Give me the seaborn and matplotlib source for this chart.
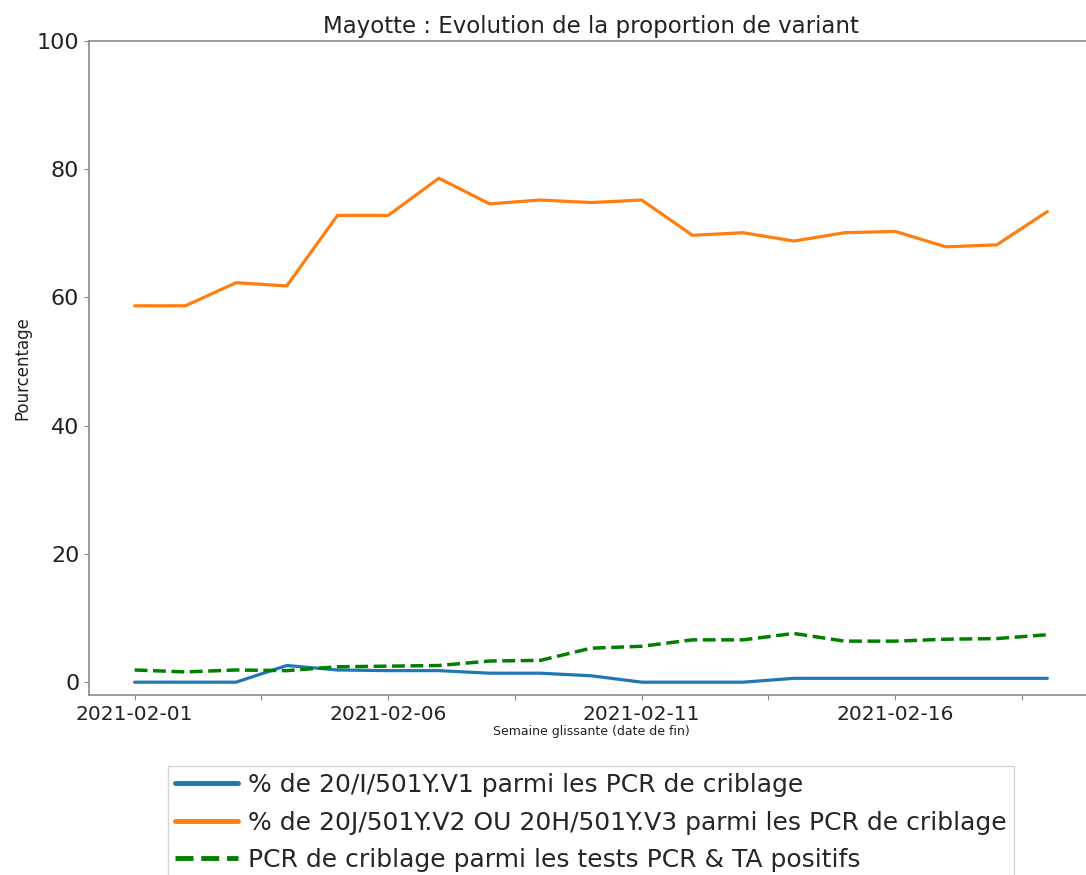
import pandas as pd
import numpy as np
import matplotlib
matplotlib.use("Agg")
import matplotlib.pyplot as plt
import seaborn as sns

dates = ["2021-02-01", "2021-02-02", "2021-02-03", "2021-02-04", "2021-02-05",
         "2021-02-06", "2021-02-07", "2021-02-08", "2021-02-09", "2021-02-10",
         "2021-02-11", "2021-02-12", "2021-02-13", "2021-02-14", "2021-02-15",
         "2021-02-16", "2021-02-17", "2021-02-18", "2021-02-19"]
v1 = [0.0, 0.0, 0.0, 2.6, 1.9, 1.8, 1.8, 1.4, 1.4, 1.0,
      0.0, 0.0, 0.0, 0.6, 0.6, 0.6, 0.6, 0.6, 0.6]
v2_v3 = [58.7, 58.7, 62.3, 61.8, 72.8, 72.8, 78.6, 74.6, 75.2, 74.8,
         75.2, 69.7, 70.1, 68.8, 70.1, 70.3, 67.9, 68.2, 73.4]
criblage = [1.9, 1.6, 1.9, 1.8, 2.4, 2.5, 2.6, 3.3, 3.4, 5.3,
            5.6, 6.6, 6.6, 7.6, 6.4, 6.4, 6.7, 6.8, 7.4]

labels = ["% de 20/I/501Y.V1 parmi les PCR de criblage",
          "% de 20J/501Y.V2 OU 20H/501Y.V3 parmi les PCR de criblage",
          "PCR de criblage parmi les tests PCR & TA positifs"]
tick_labels = ["2021-02-01", "", "2021-02-06", "", "2021-02-11", "", "2021-02-16", ""]

df = pd.DataFrame({"date": pd.to_datetime(dates), "v1": v1, "v2": v2_v3, "crib": criblage})

sns.set_style("ticks")
plt.rcParams['font.family'] = ['DejaVu Sans']

fig = plt.figure(figsize=(10.86, 8.75), dpi=100)
ax = fig.add_axes([89 / 1086, 1 - 695 / 875, 1004 / 1086, 654 / 875])

sns.lineplot(data=df, x="date", y="v1", ax=ax, color="#1f77b4", linewidth=2.3, label=labels[0])
sns.lineplot(data=df, x="date", y="v2", ax=ax, color="#ff7f0e", linewidth=2.3, label=labels[1])
sns.lineplot(data=df, x="date", y="crib", ax=ax, color="green", linewidth=2.5,
             linestyle="--", label=labels[2])

ax.set_ylim(-2, 100)
ax.set_yticks([0, 20, 40, 60, 80, 100])
ax.tick_params(axis="y", labelsize=16)
start = df["date"].iloc[0]
ticks = [start + pd.Timedelta(hours=60 * i) for i in range(len(tick_labels))]
ax.set_xticks(ticks)
ax.set_xticklabels(tick_labels, fontsize=14.5)

for side in ["left", "bottom", "top", "right"]:
    ax.spines[side].set_visible(True)
    ax.spines[side].set_color("#8a8a8a")
    ax.spines[side].set_linewidth(1.2)
ax.tick_params(colors="#8a8a8a", labelcolor="#222222")

ax.set_title("Mayotte : Evolution de la proportion de variant", fontsize=16.5, color="#222222")
ax.set_ylabel("Pourcentage", fontsize=12, color="#222222")
ax.set_xlabel("Semaine glissante (date de fin)", fontsize=9, color="#222222", labelpad=1)

leg = ax.legend(loc="upper center", bbox_to_anchor=(0.5, -0.108), fontsize=18,
                handlelength=2.5, handletextpad=0.4, borderpad=0.3, labelspacing=0.54,
                frameon=True, fancybox=False, edgecolor="#cccccc", borderaxespad=0)
for line in leg.get_lines():
    line.set_linewidth(3.5)

fig.savefig("out.png", dpi=100)
